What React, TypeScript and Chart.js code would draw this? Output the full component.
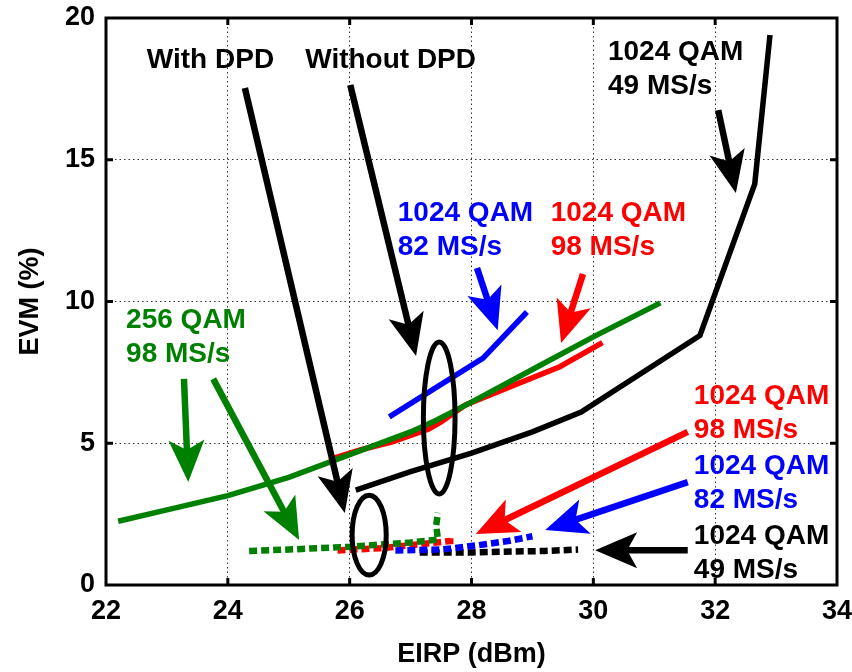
import { useEffect, useRef } from 'react';
import { Chart, registerables } from 'chart.js';

Chart.register(...registerables);

// ---- Without DPD (solid curves) ----
const eirp256 = [22.2, 23, 24, 25, 26, 27, 27.43, 28, 29, 30, 31.1];
const evm256 = [2.25, 2.65, 3.15, 3.8, 4.6, 5.4, 5.82, 6.45, 7.6, 8.75, 9.95];
const eirp1024at98 = [25.7, 26.2, 26.7, 27.3, 27.5, 27.9, 28.7, 29.45, 30.15];
const evm1024at98 = [4.45, 4.78, 5.05, 5.5, 5.75, 6.35, 7.05, 7.7, 8.55];
const eirp1024at82 = [26.65, 28.19, 28.91];
const evm1024at82 = [5.93, 8.0, 9.63];
const eirp1024at49 = [26.1, 27, 28, 29, 29.8, 31.75, 32.65, 32.9];
const evm1024at49 = [3.35, 4.0, 4.65, 5.4, 6.1, 8.8, 14.15, 19.4];

// ---- With DPD (dashed curves) ----
const eirp256Dpd = [24.35, 25, 26, 27, 27.45, 27.42, 27.45];
const evm256Dpd = [1.2, 1.25, 1.35, 1.5, 1.6, 2.1, 2.55];
const eirp1024at98Dpd = [25.8, 26.5, 27, 27.65, 27.65];
const evm1024at98Dpd = [1.22, 1.3, 1.4, 1.55, 1.7];
const eirp1024at82Dpd = [26.75, 27.5, 28.1, 28.6, 29.0];
const evm1024at82Dpd = [1.22, 1.25, 1.4, 1.55, 1.72];
const eirp1024at49Dpd = [27.15, 28, 28.7, 29.2, 29.75];
const evm1024at49Dpd = [1.15, 1.15, 1.18, 1.2, 1.25];

// Axis ranges
const xRange = [22, 34];
const yRange = [0, 20];
const xStep = 2;
const yStep = 5;

const GREEN = '#008000';
const RED = '#ff0000';
const BLUE = '#0000ff';
const BLACK = '#000000';

// Callout texts, placed in data units (EIRP, EVM) at the left edge / first line
const notes = [
  { lines: ['With DPD'], x: 22.67, y: 18.52, color: BLACK },
  { lines: ['Without DPD'], x: 25.27, y: 18.52, color: BLACK },
  { lines: ['1024 QAM', '49 MS/s'], x: 30.24, y: 18.78, color: BLACK },
  { lines: ['1024 QAM', '82 MS/s'], x: 26.79, y: 13.12, color: BLUE },
  { lines: ['1024 QAM', '98 MS/s'], x: 29.3, y: 13.12, color: RED },
  { lines: ['256 QAM', '98 MS/s'], x: 22.33, y: 9.35, color: GREEN },
  { lines: ['1024 QAM', '98 MS/s'], x: 31.65, y: 6.67, color: RED },
  { lines: ['1024 QAM', '82 MS/s'], x: 31.65, y: 4.2, color: BLUE },
  { lines: ['1024 QAM', '49 MS/s'], x: 31.65, y: 1.73, color: BLACK },
];

// Arrows: tail (x0, y0) -> tip (x1, y1), in data units
const arrows = [
  { x0: 24.28, y0: 17.53, x1: 25.92, y1: 2.54, color: BLACK },
  { x0: 26.01, y0: 17.64, x1: 27.09, y1: 8.08, color: BLACK },
  { x0: 32.05, y0: 16.75, x1: 32.34, y1: 13.83, color: BLACK },
  { x0: 28.09, y0: 11.18, x1: 28.43, y1: 8.99, color: BLUE },
  { x0: 29.83, y0: 10.97, x1: 29.47, y1: 8.54, color: RED },
  { x0: 23.28, y0: 7.27, x1: 23.35, y1: 3.63, color: GREEN },
  { x0: 23.76, y0: 7.27, x1: 25.17, y1: 1.59, color: GREEN },
  { x0: 31.55, y0: 5.4, x1: 28.07, y1: 1.8, color: RED },
  { x0: 31.55, y0: 3.63, x1: 29.21, y1: 1.94, color: BLUE },
  { x0: 31.55, y0: 1.23, x1: 30.03, y1: 1.23, color: BLACK },
];

// Ellipses grouping the curves: centre and half-axes in data units
const rings = [
  { cx: 26.32, cy: 1.76, rx: 0.28, ry: 1.41 },
  { cx: 27.47, cy: 5.89, rx: 0.26, ry: 2.68 },
];

const FONT_FAMILY = '"Liberation Sans", Arial, Helvetica, sans-serif';

const toPoints = (xs: number[], ys: number[]) => xs.map((x, i) => ({ x, y: ys[i] }));

function solid(xs: number[], ys: number[], color: string) {
  return {
    data: toPoints(xs, ys),
    borderColor: color,
    backgroundColor: color,
    borderWidth: 5.5,
    pointRadius: 0,
    tension: 0,
    fill: false,
  };
}

function dashed(xs: number[], ys: number[], color: string) {
  return {
    ...solid(xs, ys, color),
    borderWidth: 6.5,
    borderDash: [8, 4],
  };
}

function drawArrow(
  ctx: CanvasRenderingContext2D,
  x0: number,
  y0: number,
  x1: number,
  y1: number,
  color: string
) {
  const dx = x1 - x0;
  const dy = y1 - y0;
  const len = Math.hypot(dx, dy);
  const ux = dx / len;
  const uy = dy / len;
  const nx = -uy;
  const ny = ux;
  const headLen = 42;
  const halfW = 18;
  const notch = 10;
  const bx = x1 - ux * headLen;
  const by = y1 - uy * headLen;
  const mx = bx + ux * notch;
  const my = by + uy * notch;
  ctx.save();
  ctx.strokeStyle = color;
  ctx.fillStyle = color;
  ctx.lineWidth = 6.5;
  ctx.lineCap = 'butt';
  ctx.beginPath();
  ctx.moveTo(x0, y0);
  ctx.lineTo(mx + ux * 2, my + uy * 2);
  ctx.stroke();
  ctx.beginPath();
  ctx.moveTo(x1, y1);
  ctx.lineTo(bx + nx * halfW, by + ny * halfW);
  ctx.lineTo(mx, my);
  ctx.lineTo(bx - nx * halfW, by - ny * halfW);
  ctx.closePath();
  ctx.fill();
  ctx.restore();
}

const overlayPlugin = {
  id: 'evmOverlay',
  afterDatasetsDraw(chart: any) {
    const { ctx, chartArea } = chart;
    const xs = chart.scales.x;
    const ys = chart.scales.y;
    const px = (v: number) => xs.getPixelForValue(v);
    const py = (v: number) => ys.getPixelForValue(v);

    // ellipses
    ctx.save();
    ctx.strokeStyle = BLACK;
    ctx.lineWidth = 5;
    rings.forEach((r) => {
      const cx = px(r.cx);
      const cy = py(r.cy);
      const rx = Math.abs(px(r.cx + r.rx) - cx);
      const ry = Math.abs(py(r.cy + r.ry) - cy);
      ctx.beginPath();
      ctx.ellipse(cx, cy, rx, ry, 0, 0, Math.PI * 2);
      ctx.stroke();
    });
    ctx.restore();

    // arrows
    arrows.forEach((a) => drawArrow(ctx, px(a.x0), py(a.y0), px(a.x1), py(a.y1), a.color));

    // callout texts
    ctx.save();
    ctx.font = `bold 28px ${FONT_FAMILY}`;
    ctx.textAlign = 'left';
    ctx.textBaseline = 'middle';
    notes.forEach((n) => {
      ctx.fillStyle = n.color;
      n.lines.forEach((line, i) => {
        ctx.fillText(line, px(n.x), py(n.y) + i * 34);
      });
    });
    ctx.restore();

    // frame and inward tick marks
    const { left, right, top, bottom } = chartArea;
    ctx.save();
    ctx.strokeStyle = BLACK;
    ctx.lineWidth = 3;
    ctx.lineCap = 'butt';
    const tickLen = 7;
    ctx.beginPath();
    xs.ticks.forEach((t: any) => {
      const x = px(t.value);
      if (x <= left + 1 || x >= right - 1) return;
      ctx.moveTo(x, top);
      ctx.lineTo(x, top + tickLen);
      ctx.moveTo(x, bottom);
      ctx.lineTo(x, bottom - tickLen);
    });
    ys.ticks.forEach((t: any) => {
      const y = py(t.value);
      if (y <= top + 1 || y >= bottom - 1) return;
      ctx.moveTo(left, y);
      ctx.lineTo(left + tickLen, y);
      ctx.moveTo(right, y);
      ctx.lineTo(right - tickLen, y);
    });
    ctx.stroke();
    ctx.strokeRect(left, top, right - left, bottom - top);
    ctx.restore();
  },
};

export default function App() {
  const canvasRef = useRef<HTMLCanvasElement | null>(null);

  useEffect(() => {
    const canvas = canvasRef.current;
    if (!canvas) return;
    const tickFont = { family: FONT_FAMILY, size: 27, weight: 'bold' as const };
    const titleFont = { family: FONT_FAMILY, size: 27, weight: 'bold' as const };

    const chart = new Chart(canvas, {
      type: 'line',
      data: {
        datasets: [
          solid(eirp256, evm256, GREEN),
          solid(eirp1024at82, evm1024at82, BLUE),
          solid(eirp1024at98, evm1024at98, RED),
          solid(eirp1024at49, evm1024at49, BLACK),
          dashed(eirp256Dpd, evm256Dpd, GREEN),
          dashed(eirp1024at82Dpd, evm1024at82Dpd, BLUE),
          dashed(eirp1024at98Dpd, evm1024at98Dpd, RED),
          dashed(eirp1024at49Dpd, evm1024at49Dpd, BLACK),
        ] as any,
      },
      options: {
        responsive: false,
        animation: false,
        events: [],
        layout: { padding: { left: 0, right: 15, top: 18, bottom: 0 } },
        plugins: {
          legend: { display: false },
          tooltip: { enabled: false },
        },
        scales: {
          x: {
            type: 'linear',
            min: xRange[0],
            max: xRange[1],
            ticks: { stepSize: xStep, color: BLACK, font: tickFont, padding: 10, maxRotation: 0 },
            grid: { color: '#333333', lineWidth: 1, drawTicks: false },
            border: { display: false, dash: [1.5, 3] },
            title: {
              display: true,
              text: 'EIRP (dBm)',
              color: BLACK,
              font: titleFont,
              padding: { top: 0, bottom: 1 },
            },
            afterFit: (s: any) => {
              s.height = 87;
              s.paddingLeft = 0;
              s.paddingRight = 0;
            },
          },
          y: {
            type: 'linear',
            min: yRange[0],
            max: yRange[1],
            ticks: { stepSize: yStep, color: BLACK, font: tickFont, padding: 11 },
            grid: { color: '#333333', lineWidth: 1, drawTicks: false },
            border: { display: false, dash: [1.5, 3] },
            title: {
              display: true,
              text: 'EVM (%)',
              color: BLACK,
              font: titleFont,
              padding: { top: 14, bottom: 0 },
            },
            afterFit: (s: any) => {
              s.width = 106;
              s.paddingTop = 0;
              s.paddingBottom = 0;
            },
          },
        },
      },
      plugins: [overlayPlugin],
    });
    return () => chart.destroy();
  }, []);

  return (
    <div style={{ position: 'fixed', left: 0, top: 0, width: 852, height: 672, background: '#fff' }}>
      <canvas ref={canvasRef} width={852} height={672} />
    </div>
  );
}
